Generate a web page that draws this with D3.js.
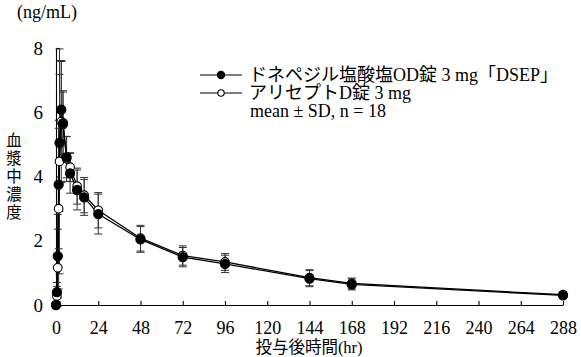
<!DOCTYPE html>
<html><head><meta charset="utf-8">
<script src="https://cdn.jsdelivr.net/npm/d3@7"></script>
<style>
body{margin:0;background:#fff;}
svg{display:block;}
</style></head><body>
<svg id="c" width="581" height="357"></svg>
<script>
const times = [0, 0.5, 1, 1.5, 2, 3, 4, 6, 8, 12, 16, 24, 48, 72, 96, 144, 168, 288];
const dsepMean = [0, 0.40, 1.52, 3.75, 5.05, 6.08, 5.66, 4.60, 4.10, 3.58, 3.35, 2.83, 2.04, 1.49, 1.28, 0.82, 0.64, 0.30];
const dsepSD   = [0, 0.30, 1.30, 2.00, 2.13, 1.50, 0.97, 0.64, 0.62, 0.62, 0.56, 0.62, 0.40, 0.30, 0.27, 0.25, 0.17, 0.10];
const ariMean  = [0, 0.28, 1.16, 3.00, 4.47, 5.71, 5.62, 4.55, 4.29, 3.70, 3.42, 2.95, 2.08, 1.54, 1.34, 0.85, 0.67, 0.32];
const ariSD    = [0, 0.30, 1.20, 2.50, 3.50, 1.90, 1.05, 0.70, 0.45, 0.56, 0.55, 0.55, 0.40, 0.30, 0.26, 0.25, 0.17, 0.10];
const xTicks = [0, 24, 48, 72, 96, 120, 144, 168, 192, 216, 240, 264, 288];
const yTicks = [0, 2, 4, 6, 8];
const seriesNames = ["ドネペジル塩酸塩OD錠 3 mg「DSEP」", "アリセプトD錠 3 mg"];
const noteText = "mean ± SD, n = 18";
const yUnit = "(ng/mL)";
const yTitle = "血漿中濃度";
const xTitle = "投与後時間(hr)";

const SERIF = "'Liberation Serif','DejaVu Serif','Noto Sans CJK JP',serif";
const JP = "'Noto Sans CJK JP',sans-serif";

const svg = d3.select("#c");
const x = d3.scaleLinear().domain([0, 288]).range([56, 563]);
const y = d3.scaleLinear().domain([0, 8]).range([305, 48]);

// axes
const gx = svg.append("g").attr("transform", `translate(0,${y(0)})`)
  .call(d3.axisBottom(x).tickValues(xTicks).tickSize(-4).tickSizeOuter(0).tickPadding(16));
gx.attr("font-family", SERIF).attr("font-size", 18);
gx.selectAll("text").attr("fill", "#000");
const gy = svg.append("g").attr("transform", `translate(${x(0)},0)`)
  .call(d3.axisLeft(y).tickValues(yTicks).tickSize(-4).tickSizeOuter(0).tickPadding(13));
gy.attr("font-family", SERIF).attr("font-size", 19);
gy.selectAll("text").attr("fill", "#000");
svg.selectAll(".domain, .tick line").attr("stroke", "#000").attr("stroke-width", 1.1);

// titles
svg.append("text").attr("x", 17).attr("y", 18).attr("font-family", SERIF).attr("font-size", 18).text(yUnit);
svg.append("text").attr("x", 14).attr("y", 132)
  .attr("font-family", JP).attr("font-size", 15.5)
  .style("writing-mode", "vertical-rl").style("letter-spacing", "2.5px")
  .text(yTitle);
svg.append("text").attr("x", 309).attr("y", 353)
  .attr("text-anchor", "middle").attr("font-family", SERIF).attr("font-size", 16.5).text(xTitle);

const series = [
  {mean: ariMean, sd: ariSD, fill: "#fff", r: 4.3},
  {mean: dsepMean, sd: dsepSD, fill: "#000", r: 4.6}
];
const line = d3.line().x(d => x(d.t)).y(d => y(d.m));

// error bars
series.forEach(s => {
  const data = times.map((t, i) => ({t, m: s.mean[i], sd: s.sd[i]})).filter(d => d.sd > 0);
  const g = svg.append("g").attr("stroke", "#333").attr("stroke-width", 1);
  data.forEach(d => {
    const cx = x(d.t);
    const top = y(Math.min(8, d.m + d.sd)), bot = y(d.m - d.sd);
    g.append("line").attr("x1", cx).attr("x2", cx).attr("y1", bot).attr("y2", top);
    g.append("line").attr("x1", cx - 4).attr("x2", cx + 4).attr("y1", top).attr("y2", top);
    g.append("line").attr("x1", cx - 4).attr("x2", cx + 4).attr("y1", bot).attr("y2", bot);
  });
});

// lines and points
series.forEach(s => {
  const data = times.map((t, i) => ({t, m: s.mean[i]}));
  svg.append("path").datum(data).attr("d", line).attr("fill", "none")
    .attr("stroke", "#000").attr("stroke-width", 1.3);
});
series.forEach(s => {
  const data = times.map((t, i) => ({t, m: s.mean[i]}));
  svg.append("g").selectAll("circle").data(data).join("circle")
    .attr("cx", d => x(d.t)).attr("cy", d => y(d.m)).attr("r", s.r)
    .attr("fill", s.fill).attr("stroke", "#000").attr("stroke-width", 1.1);
});

// legend
const leg = [{fill: "#000", r: 3.6, y: 75, label: seriesNames[0]}, {fill: "#fff", r: 3.2, y: 93, label: seriesNames[1]}];
leg.forEach(l => {
  svg.append("line").attr("x1", 200).attr("x2", 242).attr("y1", l.y).attr("y2", l.y)
    .attr("stroke", "#000").attr("stroke-width", 1.2);
  svg.append("circle").attr("cx", 221).attr("cy", l.y).attr("r", l.r)
    .attr("fill", l.fill).attr("stroke", "#000").attr("stroke-width", 1.1);
  svg.append("text").attr("x", 249).attr("y", l.y + 6).attr("font-family", SERIF).attr("font-size", 18).text(l.label);
});
svg.append("text").attr("x", 250).attr("y", 117).attr("font-family", SERIF).attr("font-size", 18).text(noteText);
</script></body></html>
